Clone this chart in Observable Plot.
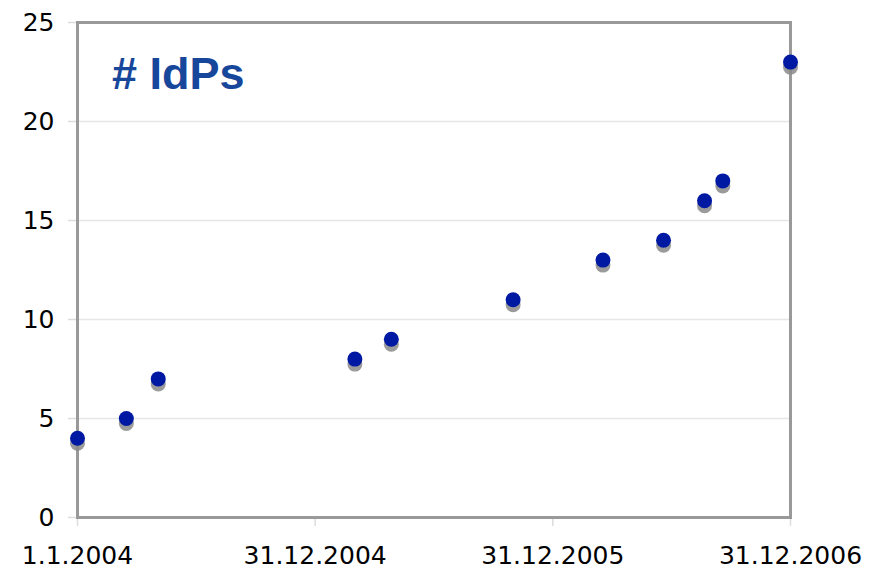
<!DOCTYPE html>
<html>
<head>
<meta charset="utf-8">
<script src="https://cdn.jsdelivr.net/npm/d3@7"></script>
<script src="https://cdn.jsdelivr.net/npm/@observablehq/plot@0.6"></script>
<style>
  html, body { margin: 0; padding: 0; background: #fff; }
  #chart { position: relative; width: 886px; height: 573px; }
  #title { position: absolute; left: 112px; top: 48px; font: bold 45px "Liberation Sans", Arial, sans-serif; color: #17479b; }
</style>
</head>
<body>
<div id="chart"><div id="title"># IdPs</div></div>
<script>
const dates = ["2004-01-01","2004-03-16","2004-05-04","2005-03-02","2005-04-27","2005-10-31","2006-03-18","2006-06-19","2006-08-21","2006-09-18","2006-12-31"];
const counts = [4, 5, 7, 8, 9, 11, 13, 14, 16, 17, 23];
const xTickDates = ["2004-01-01","2004-12-31","2005-12-31","2006-12-31"];
const xTickLabels = ["1.1.2004","31.12.2004","31.12.2005","31.12.2006"];
const yTicks = [0, 5, 10, 15, 20, 25];

const data = dates.map((d, i) => ({date: new Date(d), n: counts[i]}));
const xt = xTickDates.map(d => new Date(d));
const labelFor = new Map(xt.map((d, i) => [+d, xTickLabels[i]]));

const plot = Plot.plot({
  width: 886,
  height: 573,
  marginLeft: 77,
  marginRight: 96,
  marginTop: 22,
  marginBottom: 56,
  style: {fontFamily: "DejaVu Sans, Verdana, sans-serif", fontSize: "25px", color: "#000", background: "transparent"},
  x: {type: "utc", domain: [xt[0], xt[3]]},
  y: {domain: [0, 25]},
  marks: [
    Plot.ruleY(yTicks.slice(1, -1), {stroke: "#e6e6e6", strokeWidth: 1.5}),
    Plot.axisY({ticks: yTicks, tickSize: 9, tickPadding: 14, stroke: "#dcdcdc", strokeWidth: 1.5, label: null, fill: "#000"}),
    Plot.axisX({ticks: xt, tickSize: 9, tickPadding: 20, stroke: "#dcdcdc", strokeWidth: 1.5, label: null, fill: "#000",
      tickFormat: d => labelFor.get(+d)}),
    Plot.frame({stroke: "#999", strokeWidth: 3}),
    Plot.dot(data, {x: "date", y: "n", r: 7.5, fill: "#8a8a8a", dy: 5, fillOpacity: 0.85}),
    Plot.dot(data, {x: "date", y: "n", r: 7.5, fill: "#0019a3"})
  ]
});
document.getElementById("chart").prepend(plot);
</script>
</body>
</html>
